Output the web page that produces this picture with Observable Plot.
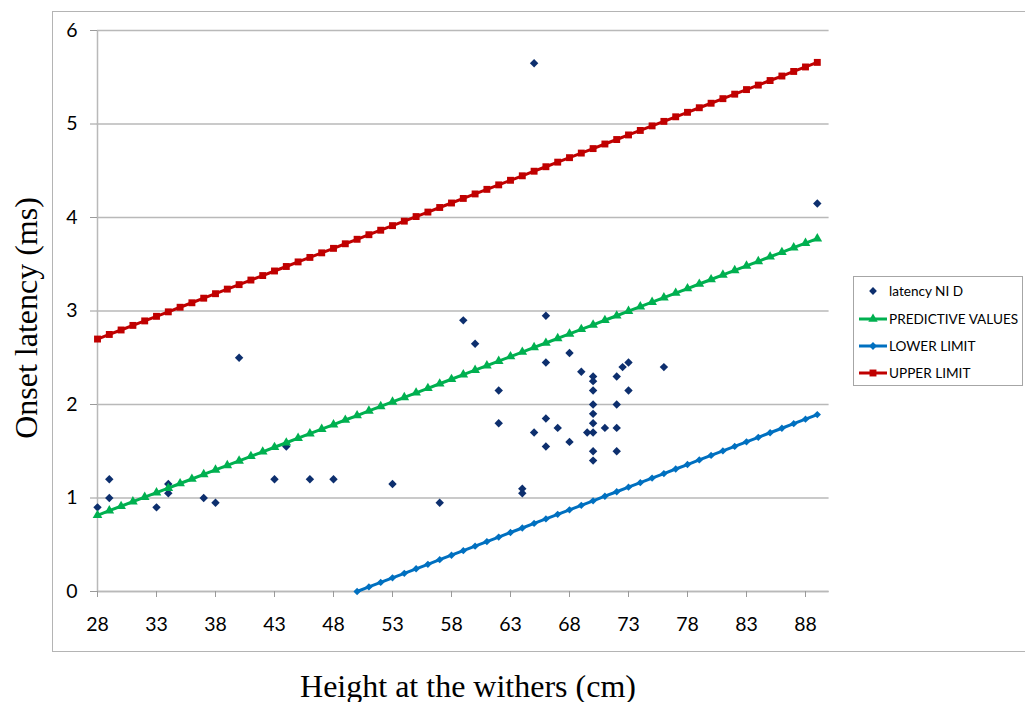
<!DOCTYPE html>
<html>
<head>
<meta charset="utf-8">
<script src="https://cdn.jsdelivr.net/npm/d3@7"></script>
<script src="https://cdn.jsdelivr.net/npm/@observablehq/plot@0.6"></script>
<style>
  html, body { margin: 0; padding: 0; background: #fff; overflow: hidden; }
  #chart { position: relative; width: 1025px; height: 702px; }
  #chart > svg { position: absolute; left: 0; top: 0; }
  #frame { position: absolute; left: 52px; top: 11px; width: 1000px; height: 639px;
           border: 1.5px solid #b4b4b4; pointer-events: none; }
  .ttl { position: absolute; font-family: "Liberation Serif", "Times New Roman", serif;
         font-size: 32px; color: #000; white-space: nowrap; line-height: 36px; }
  #xt { left: 468px; top: 668px; transform: translateX(-50%); }
  #yt { left: 26px; top: 318px; transform: translate(-50%, -50%) rotate(-90deg); }
  #legend { position: absolute; left: 853px; top: 276px; width: 168px; height: 108px;
            border: 1px solid #a6a6a6; background: #fff;
            font-family: Lato, "Open Sans", sans-serif; font-size: 13.6px; color: #000; }
  .row { position: absolute; left: 4px; height: 20px; display: flex; align-items: center; white-space: nowrap; }
  .row svg { width: 30px; height: 20px; display: block; flex: none; margin-right: 1px; }
</style>
</head>
<body>
<div id="chart"></div>
<script>
// Height at the withers (cm) for every regression point, 28 … 89
const heights = [
  28, 29, 30, 31, 32, 33, 34, 35, 36, 37,
  38, 39, 40, 41, 42, 43, 44, 45, 46, 47,
  48, 49, 50, 51, 52, 53, 54, 55, 56, 57,
  58, 59, 60, 61, 62, 63, 64, 65, 66, 67,
  68, 69, 70, 71, 72, 73, 74, 75, 76, 77,
  78, 79, 80, 81, 82, 83, 84, 85, 86, 87,
  88, 89
];

// Predicted onset latency (ms) at each height
const predictive = [
  0.815, 0.864, 0.912, 0.961, 1.009, 1.058, 1.106, 1.155, 1.203, 1.252,
  1.300, 1.349, 1.397, 1.446, 1.494, 1.543, 1.591, 1.640, 1.688, 1.737,
  1.785, 1.834, 1.882, 1.931, 1.979, 2.028, 2.076, 2.125, 2.173, 2.222,
  2.270, 2.319, 2.367, 2.416, 2.464, 2.513, 2.561, 2.610, 2.658, 2.707,
  2.755, 2.804, 2.852, 2.901, 2.949, 2.998, 3.046, 3.095, 3.143, 3.192,
  3.240, 3.289, 3.337, 3.386, 3.434, 3.483, 3.531, 3.580, 3.628, 3.677,
  3.725, 3.774
];

// Upper limit (ms) at each height
const upperLimit = [
  2.700, 2.749, 2.797, 2.846, 2.894, 2.943, 2.991, 3.040, 3.088, 3.137,
  3.185, 3.234, 3.282, 3.331, 3.379, 3.428, 3.476, 3.525, 3.573, 3.622,
  3.670, 3.719, 3.767, 3.816, 3.864, 3.913, 3.961, 4.010, 4.058, 4.107,
  4.155, 4.204, 4.252, 4.301, 4.349, 4.398, 4.446, 4.495, 4.543, 4.592,
  4.640, 4.689, 4.737, 4.786, 4.834, 4.883, 4.931, 4.980, 5.028, 5.077,
  5.125, 5.174, 5.222, 5.271, 5.319, 5.368, 5.416, 5.465, 5.513, 5.562,
  5.610, 5.659
];

// Lower limit (ms), only plotted from 50 cm where it reaches zero
const lowerHeights = heights.slice(22);
const lowerLimit = [
  0.000, 0.049, 0.097, 0.146, 0.194, 0.243, 0.291, 0.340, 0.388, 0.437,
  0.485, 0.534, 0.582, 0.631, 0.679, 0.728, 0.776, 0.825, 0.873, 0.922,
  0.970, 1.019, 1.067, 1.116, 1.164, 1.213, 1.261, 1.310, 1.358, 1.407,
  1.455, 1.504, 1.552, 1.601, 1.649, 1.698, 1.746, 1.795, 1.843, 1.892
];

// Observed latency NI D: height (cm) and onset latency (ms)
const obsHeight = [
  28, 29, 29, 33, 34, 34, 37, 38, 40, 43,
  44, 46, 48, 53, 57, 59, 60, 62, 62, 64,
  64, 65, 65, 66, 66, 66, 66, 67, 68, 68,
  69, 69.5, 70, 70, 70, 70, 70, 70, 70, 70,
  70, 71, 72, 72, 72, 72, 72.5, 73, 73, 76,
  89
];
const obsLatency = [
  0.90, 1.20, 1.00, 0.90, 1.15, 1.05, 1.00, 0.95, 2.50, 1.20,
  1.55, 1.20, 1.20, 1.15, 0.95, 2.90, 2.65, 2.15, 1.80, 1.10,
  1.05, 1.70, 5.65, 2.95, 2.45, 1.85, 1.55, 1.75, 2.55, 1.60,
  2.35, 1.70, 2.30, 2.25, 2.15, 2.00, 1.90, 1.80, 1.70, 1.50,
  1.40, 1.75, 2.30, 2.00, 1.75, 1.50, 2.40, 2.45, 2.15, 2.40,
  4.15
];

const xTicks = [28, 33, 38, 43, 48, 53, 58, 63, 68, 73, 78, 83, 88];
const yTicks = [0, 1, 2, 3, 4, 5, 6];

const seriesNames = ["latency NI D", "PREDICTIVE VALUES", "LOWER LIMIT", "UPPER LIMIT"];
const seriesColors = ["#0d2f6e", "#00b050", "#0070c0", "#c00000"];
const seriesSymbols = ["diamond2", "triangle", "diamond2", "square"];

const observed = obsHeight.map((h, i) => ({h, v: obsLatency[i]}));
const predRows = heights.map((h, i) => ({h, v: predictive[i]}));
const upperRows = heights.map((h, i) => ({h, v: upperLimit[i]}));
const lowerRows = lowerHeights.map((h, i) => ({h, v: lowerLimit[i]}));

const grey = "#b9b9b9";

const plot = Plot.plot({
  width: 1025,
  height: 702,
  marginLeft: 97,
  marginRight: 196.4,
  marginTop: 30,
  marginBottom: 111,
  style: {fontFamily: "Lato, 'Open Sans', sans-serif", background: "none", color: "#000", overflow: "visible"},
  x: {domain: [28, 90]},
  y: {domain: [0, 6]},
  marks: [
    Plot.gridY(yTicks, {stroke: grey, strokeOpacity: 1, strokeWidth: 1.5}),
    Plot.ruleX([28], {y1: 0, y2: 6, stroke: grey, strokeWidth: 1.5}),
    Plot.ruleY([0], {stroke: grey, strokeWidth: 1.5}),
    Plot.axisX(xTicks, {tickSize: 6, tickPadding: 20, fontSize: 19.5, tickFormat: d => String(d),
                        label: null, stroke: "#9a9a9a", fill: "#000"}),
    Plot.axisY(yTicks, {tickSize: 7, tickPadding: 13, fontSize: 19.5, tickFormat: d => String(d),
                        label: null, stroke: "#9a9a9a", fill: "#000"}),

    // observed latencies
    Plot.dot(observed, {x: "h", y: "v", symbol: seriesSymbols[0], r: 3.8, fill: seriesColors[0], stroke: "none"}),

    // predictive values
    Plot.line(predRows, {x: "h", y: "v", stroke: seriesColors[1], strokeWidth: 3}),
    Plot.dot(predRows, {x: "h", y: "v", symbol: seriesSymbols[1], r: 3.6, fill: seriesColors[1], stroke: "none"}),

    // lower limit
    Plot.line(lowerRows, {x: "h", y: "v", stroke: seriesColors[2], strokeWidth: 3}),
    Plot.dot(lowerRows, {x: "h", y: "v", symbol: seriesSymbols[2], r: 3.3, fill: seriesColors[2], stroke: "none"}),

    // upper limit
    Plot.line(upperRows, {x: "h", y: "v", stroke: seriesColors[3], strokeWidth: 3}),
    Plot.dot(upperRows, {x: "h", y: "v", symbol: seriesSymbols[3], r: 3.9, fill: seriesColors[3], stroke: "none"})
  ]
});

const chart = document.getElementById("chart");
chart.appendChild(plot);

const frame = document.createElement("div");
frame.id = "frame";
chart.appendChild(frame);

const xt = document.createElement("div");
xt.className = "ttl"; xt.id = "xt";
xt.textContent = "Height at the withers (cm)";
chart.appendChild(xt);

const yt = document.createElement("div");
yt.className = "ttl"; yt.id = "yt";
yt.textContent = "Onset latency (ms)";
chart.appendChild(yt);

// legend box with one line+marker swatch per series
const legend = document.createElement("div");
legend.id = "legend";
const rowTops = [4, 32, 59, 86];
const legendSymbols = [d3.symbolDiamond2, d3.symbolTriangle, d3.symbolDiamond2, d3.symbolSquare];
seriesNames.forEach((name, i) => {
  const row = document.createElement("div");
  row.className = "row";
  row.style.top = rowTops[i] + "px";
  const sym = d3.symbol(legendSymbols[i], Math.PI * (i === 3 ? 3.9 : 3.5) ** 2)();
  const line = i === 0 ? "" : `<line x1="1" x2="29" y1="10" y2="10" stroke="${seriesColors[i]}" stroke-width="3"/>`;
  row.innerHTML = `<svg viewBox="0 0 30 20">${line}<path d="${sym}" transform="translate(15,10)" fill="${seriesColors[i]}"/></svg><span>${name}</span>`;
  legend.appendChild(row);
});
chart.appendChild(legend);
</script>
</body>
</html>
